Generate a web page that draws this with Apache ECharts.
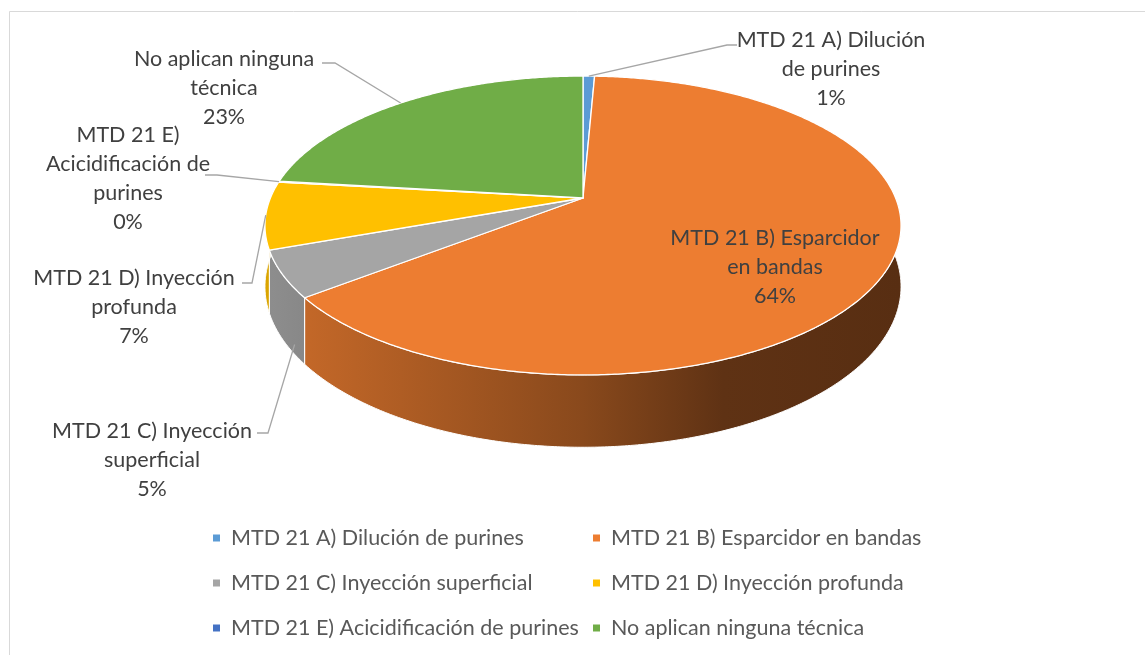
<!DOCTYPE html>
<html>
<head>
<meta charset="utf-8">
<script src="https://cdn.jsdelivr.net/npm/echarts@6/dist/echarts.min.js"></script>
<style>
html, body { margin: 0; padding: 0; background: #fff; }
#chart { width: 1145px; height: 655px; }
</style>
</head>
<body>
<div id="chart"></div>
<script>
// datos del gráfico
var categories = [
    'MTD 21 A) Dilución de purines',
    'MTD 21 B) Esparcidor en bandas',
    'MTD 21 C) Inyección superficial',
    'MTD 21 D) Inyección profunda',
    'MTD 21 E) Acicidificación de purines',
    'No aplican ninguna técnica'
];
var values = [0.7, 63.8, 5.0, 7.3, 0.1, 23.1];
var labelLines = [
    ['MTD 21 A) Dilución', 'de purines'],
    ['MTD 21 B) Esparcidor', 'en bandas'],
    ['MTD 21 C) Inyección', 'superficial'],
    ['MTD 21 D) Inyección', 'profunda'],
    ['MTD 21 E)', 'Acicidificación de', 'purines'],
    ['No aplican ninguna', 'técnica']
];
var colors = ['#5b9bd5', '#ed7d31', '#a5a5a5', '#ffc000', '#4472c4', '#70ad47'];

var FONT = 'Lato';
var FONT_SIZE = 21.5;

// pseudo 3d pie geometry
var CX = 583, CY = 198, RX = 312.6, RY = 144.4, PERSP = 0.184, DEPTH = 59;

function proj(theta, h) {
    var u = Math.sin(theta), v = -Math.cos(theta);
    var d = 1 - PERSP * v;
    return [CX + RX * u / d, CY + (RY * v + DEPTH * h) / d];
}

function arc(a, b, h) {
    var pts = [];
    var n = Math.max(2, Math.ceil((b - a) / (Math.PI / 360)));
    for (var k = 0; k <= n; k++) {
        pts.push(proj(a + (b - a) * k / n, h));
    }
    return pts;
}

var total = 0;
values.forEach(function (v) { total += v; });
var starts = [], ends = [];
var acc = 0;
values.forEach(function (v) {
    starts.push(acc / total * 2 * Math.PI);
    acc += v;
    ends.push(acc / total * 2 * Math.PI);
});

function shade(hex, f) {
    var r = parseInt(hex.substr(1, 2), 16), g = parseInt(hex.substr(3, 2), 16), b = parseInt(hex.substr(5, 2), 16);
    return 'rgb(' + Math.round(r * f) + ',' + Math.round(g * f) + ',' + Math.round(b * f) + ')';
}

// label placement (layout only): block centre, anchor on slice, elbow points
var labelLayout = [
    { x: 831, y: 69, anchor: [0.5, 0], path: [[727, 45], [737, 45]] },
    { x: 775, y: 267 },
    { x: 152, y: 460, anchor: [0.2, 0.85], path: [[268, 433], [257, 433]] },
    { x: 134, y: 307, anchor: [0.5, 0], path: [[252, 283], [242, 283]] },
    { x: 128, y: 179, anchor: [0.5, 0], path: [[217, 175], [205, 175]] },
    { x: 224, y: 88, anchor: [0.5, 0], path: [[335, 63], [322, 63]] }
];

function renderSide(params, api) {
    var i = params.dataIndex;
    var a = Math.max(starts[i], Math.PI / 2), b = Math.min(ends[i], 3 * Math.PI / 2);
    if (b <= a) return { type: 'group', children: [] };
    var pts = arc(a, b, 0).concat(arc(a, b, 1).reverse());
    var c = colors[i];
    var fill = new echarts.graphic.LinearGradient(265, 0, 901, 0, [
        { offset: 0, color: shade(c, 0.86) },
        { offset: 0.07, color: shade(c, 0.82) },
        { offset: 0.5, color: shade(c, 0.58) },
        { offset: 0.72, color: shade(c, 0.40) },
        { offset: 1, color: shade(c, 0.37) }
    ], true);
    return {
        type: 'polygon',
        shape: { points: pts },
        style: { fill: fill, stroke: '#ffffff', lineWidth: 1 }
    };
}

function renderTop(params, api) {
    var i = params.dataIndex;
    var pts = [[CX, CY]].concat(arc(starts[i], ends[i], 0));
    return {
        type: 'polygon',
        shape: { points: pts },
        style: { fill: colors[i], stroke: '#ffffff', lineWidth: 1.3, lineJoin: 'round' }
    };
}

function renderLabel(params, api) {
    var i = params.dataIndex;
    var lay = labelLayout[i];
    var pct = Math.round(values[i] / total * 100) + '%';
    var children = [];
    if (lay.anchor) {
        var t = starts[i] + (ends[i] - starts[i]) * lay.anchor[0];
        var p0 = proj(t, lay.anchor[1]);
        children.push({
            type: 'polyline',
            shape: { points: [p0].concat(lay.path) },
            style: { stroke: '#a6a6a6', lineWidth: 1.3, fill: null }
        });
    }
    children.push({
        type: 'text',
        style: {
            text: labelLines[i].concat([pct]).join('\n'),
            x: lay.x,
            y: lay.y,
            align: 'center',
            verticalAlign: 'middle',
            fontFamily: FONT,
            fontSize: FONT_SIZE,
            lineHeight: 29,
            fill: '#404040'
        }
    });
    return { type: 'group', children: children };
}

var legendText = { color: '#595959', fontFamily: FONT, fontSize: FONT_SIZE, lineHeight: 24, padding: [0, 0, 0, 6] };

var option = {
    animation: false,
    backgroundColor: '#ffffff',
    graphic: [{
        type: 'rect',
        shape: { x: 9.5, y: 11.5, width: 1200, height: 700 },
        style: { fill: null, stroke: '#d9d9d9', lineWidth: 1 },
        silent: true
    }],
    legend: [{
        data: [categories[0], categories[2], categories[4]],
        orient: 'vertical',
        left: 213, top: 526,
        padding: 0,
        itemGap: 21,
        itemWidth: 7, itemHeight: 7,
        icon: 'rect',
        selectedMode: false,
        textStyle: legendText
    }, {
        data: [categories[1], categories[3], categories[5]],
        orient: 'vertical',
        left: 593, top: 526,
        padding: 0,
        itemGap: 21,
        itemWidth: 7, itemHeight: 7,
        icon: 'rect',
        selectedMode: false,
        textStyle: legendText
    }],
    series: [{
        // only feeds the legend
        type: 'pie',
        name: 'leyenda',
        radius: [0, 0],
        center: [CX, CY],
        silent: true,
        label: { show: false },
        labelLine: { show: false },
        data: categories.map(function (c, i) {
            return { name: c, value: values[i], itemStyle: { color: colors[i] } };
        })
    }, {
        type: 'custom',
        name: 'lados',
        coordinateSystem: 'none',
        z: 1,
        silent: true,
        renderItem: renderSide,
        data: values
    }, {
        type: 'custom',
        name: 'superficie',
        coordinateSystem: 'none',
        z: 2,
        silent: true,
        renderItem: renderTop,
        data: values
    }, {
        type: 'custom',
        name: 'etiquetas',
        coordinateSystem: 'none',
        z: 3,
        silent: true,
        renderItem: renderLabel,
        data: values
    }]
};

var myChart = echarts.init(document.getElementById('chart'));
myChart.setOption(option);
</script>
</body>
</html>
